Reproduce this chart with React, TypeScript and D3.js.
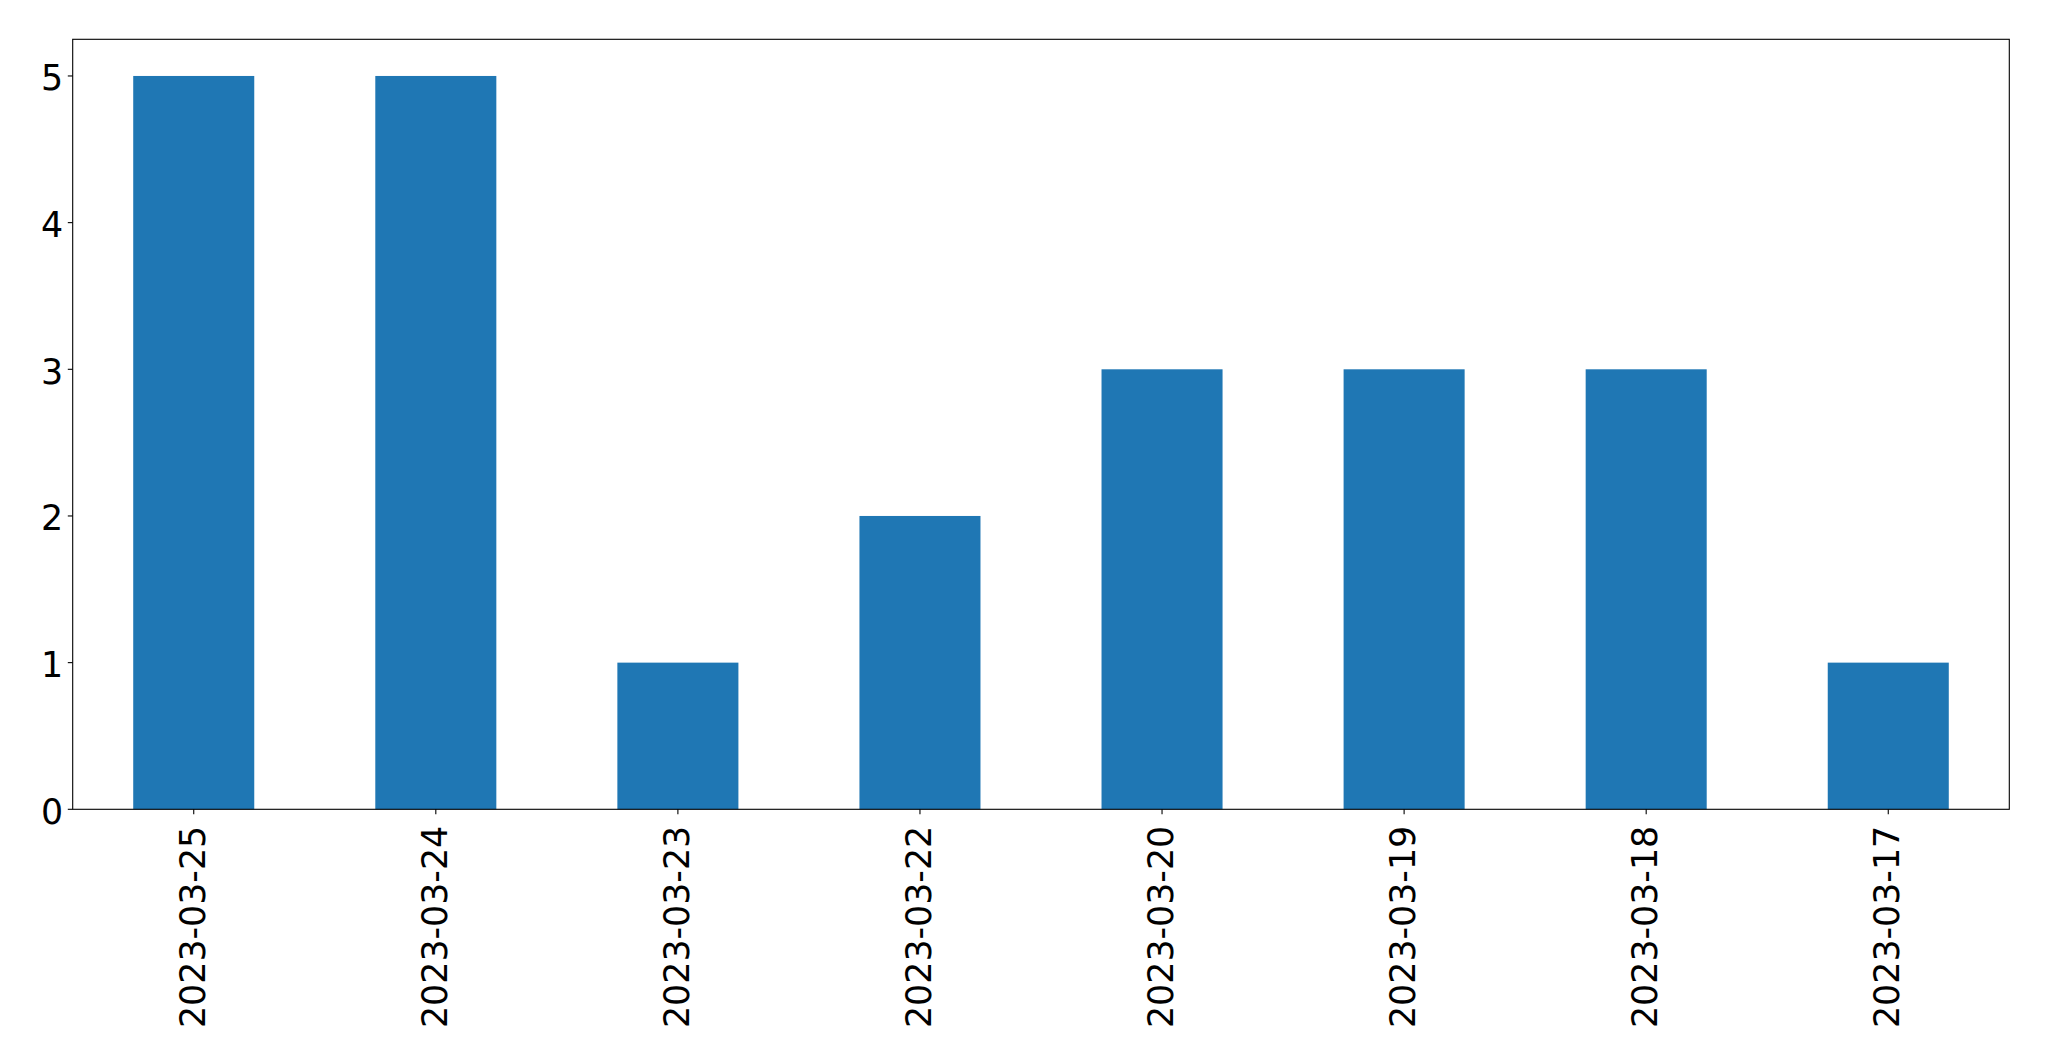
import React from "react";
import * as d3 from "d3";

const categories = ["2023-03-25", "2023-03-24", "2023-03-23", "2023-03-22", "2023-03-20", "2023-03-19", "2023-03-18", "2023-03-17"];
const values = [5, 5, 1, 2, 3, 3, 3, 1];
const yTicks = [0, 1, 2, 3, 4, 5];

const W = 2049;
const H = 1061;
const left = 72.7;
const right = 2009.3;
const top = 39.3;
const bottom = 809.3;
const FONT = "'DejaVu Sans', sans-serif";
const FS = 34.8;

export default function App() {
  const x = d3.scaleLinear().domain([-0.5, categories.length - 0.5]).range([left, right]);
  const y = d3.scaleLinear().domain([0, 5.25]).range([bottom, top]);
  const bw = x(0.25) - x(-0.25);
  return (
    <svg width={W} height={H} style={{ position: "absolute", left: 0, top: 0, background: "#fff" }}>
      <rect x={0} y={0} width={W} height={H} fill="#fff" />
      {values.map((v, i) => (
        <rect key={i} x={x(i) - bw / 2} y={y(v)} width={bw} height={y(0) - y(v)} fill="#1f77b4" />
      ))}
      <rect x={left} y={top} width={right - left} height={bottom - top} fill="none" stroke="#000" strokeWidth={1.1} />
      {yTicks.map((t) => (
        <g key={t}>
          <line x1={left - 4.9} x2={left} y1={y(t)} y2={y(t)} stroke="#000" strokeWidth={1.1} />
          <text x={left - 9.6} y={y(t) + 14.2} textAnchor="end" fontFamily={FONT} fontSize={FS} fill="#000">{t}</text>
        </g>
      ))}
      {categories.map((c, i) => (
        <g key={c}>
          <line x1={x(i)} x2={x(i)} y1={bottom} y2={bottom + 4.9} stroke="#000" strokeWidth={1.1} />
          <text transform={`translate(${x(i) + 10.8},${bottom + 16.5}) rotate(-90)`} textAnchor="end" fontFamily={FONT} fontSize={FS} fill="#000">{c}</text>
        </g>
      ))}
    </svg>
  );
}
